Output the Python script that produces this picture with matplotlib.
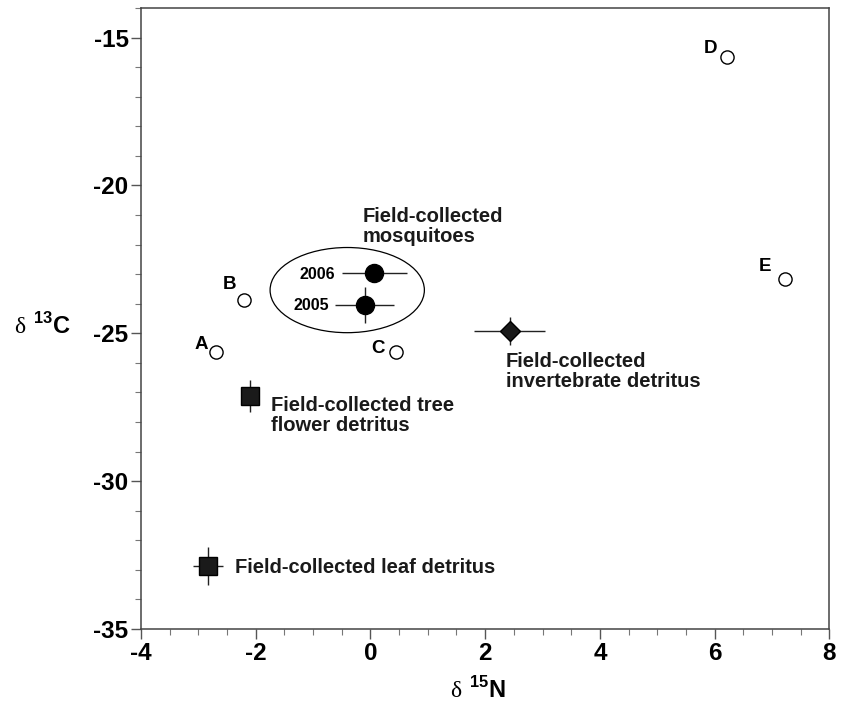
import numpy as np
import matplotlib
matplotlib.use("Agg")
import matplotlib.pyplot as plt
from matplotlib.patches import Ellipse
from matplotlib.ticker import MultipleLocator

plt.rcParams['font.family'] = ['Liberation Sans', 'DejaVu Sans']
plt.rcParams['axes.unicode_minus'] = False
plt.rcParams['mathtext.fontset'] = 'custom'
plt.rcParams['mathtext.rm'] = 'Liberation Serif'
plt.rcParams['mathtext.bf'] = 'Liberation Sans:bold'

# potential sources (open circles)
source_labels = ['A', 'B', 'C', 'D', 'E']
source_d15n = [-2.69, -2.21, 0.45, 6.22, 7.23]
source_d13c = [-25.63, -23.88, -25.62, -15.65, -23.17]

# field-collected mosquitoes
mosq_years = ['2006', '2005']
mosq_d15n = [0.07, -0.10]
mosq_d13c = [-22.97, -24.05]
mosq_xerr = [0.57, 0.51]
mosq_yerr = [0.2, 0.61]

# detritus
invert_d15n, invert_d13c = 2.43, -24.92
invert_xerr, invert_yerr = 0.62, 0.46
tree_d15n, tree_d13c = -2.10, -27.13
tree_xerr, tree_yerr = 0.1, 0.54
leaf_d15n, leaf_d13c = -2.83, -32.86
leaf_xerr, leaf_yerr = 0.26, 0.64

fig = plt.figure(figsize=(8.41, 7.05), dpi=100)
ax = fig.add_axes([0.1677, 0.1078, 0.8184, 0.8809])

eb = dict(ecolor='#222222', elinewidth=1.0, capsize=0, linestyle='none')

ax.plot(source_d15n, source_d13c, 'o', ms=9.5, mfc='white', mec='black', mew=1.0)

ax.errorbar(mosq_d15n, mosq_d13c, xerr=mosq_xerr, yerr=mosq_yerr, fmt='o',
            ms=13, mfc='black', mec='black', **eb)
ax.errorbar(invert_d15n, invert_d13c, xerr=invert_xerr, yerr=invert_yerr, fmt='D',
            ms=10, mfc='#1a1a1a', mec='black', **eb)
ax.errorbar(tree_d15n, tree_d13c, xerr=tree_xerr, yerr=tree_yerr, fmt='s',
            ms=13, mfc='#1a1a1a', mec='black', **eb)
ax.errorbar(leaf_d15n, leaf_d13c, xerr=leaf_xerr, yerr=leaf_yerr, fmt='s',
            ms=12.5, mfc='#1a1a1a', mec='black', **eb)

ax.add_patch(Ellipse((-0.405, -23.54), 2.69, 2.88, fill=False, ec='black', lw=0.9))

# labels next to the points
src_off = [(-15, 7), (-14, 16), (-18, 3), (-17, 8), (-20, 13)]
for lab, x, y, off in zip(source_labels, source_d15n, source_d13c, src_off):
    ax.annotate(lab, (x, y), xytext=off, textcoords='offset pixels',
                ha='center', va='center', fontsize=13.5, fontweight='bold')

yr_off = [(-39, -1), (-36, 0)]
for yr, x, y, off in zip(mosq_years, mosq_d15n, mosq_d13c, yr_off):
    ax.annotate(yr, (x, y), xytext=off, textcoords='offset pixels',
                ha='right', va='center', fontsize=11.5, fontweight='bold')

tk = dict(textcoords='offset pixels', ha='left', va='baseline', fontsize=14.5,
          fontweight='bold', linespacing=1.07, color='#1a1a1a')
ax.annotate('Field-collected\nmosquitoes', (mosq_d15n[0], mosq_d13c[0]),
            xytext=(-12, 31), **tk)
ax.annotate('Field-collected tree\nflower detritus', (tree_d15n, tree_d13c),
            xytext=(21, -35), **tk)
ax.annotate('Field-collected\ninvertebrate detritus', (invert_d15n, invert_d13c),
            xytext=(-4, -56), **tk)
ax.annotate('Field-collected leaf detritus', (leaf_d15n, leaf_d13c),
            xytext=(27, -7), **tk)

ax.set_xlim(-4, 8)
ax.set_ylim(-35, -14)
ax.xaxis.set_major_locator(MultipleLocator(2))
ax.xaxis.set_minor_locator(MultipleLocator(0.5))
ax.yaxis.set_major_locator(MultipleLocator(5))
ax.yaxis.set_minor_locator(MultipleLocator(1))
ax.tick_params(which='major', length=7, width=1, color='#555555', labelsize=17.5, pad=2)
ax.tick_params(which='minor', length=4, width=0.8, color='#777777')
for lbl in ax.get_xticklabels() + ax.get_yticklabels():
    lbl.set_fontweight('bold')
for sp in ax.spines.values():
    sp.set_color('#444444')
    sp.set_linewidth(1.1)

ax.set_xlabel(r'$\mathrm{\delta}\ ^{\mathbf{15}}\mathbf{N}$', fontsize=17)
ax.set_ylabel(r'$\mathrm{\delta}\ ^{\mathbf{13}}\mathbf{C}$', fontsize=17, rotation=0)
ax.xaxis.set_label_coords(0.489, -0.098)
ax.yaxis.set_label_coords(-0.144, 0.488)
ax.yaxis.label.set_va('center')
ax.xaxis.label.set_va('center')

fig.savefig('out.png', dpi=100)
